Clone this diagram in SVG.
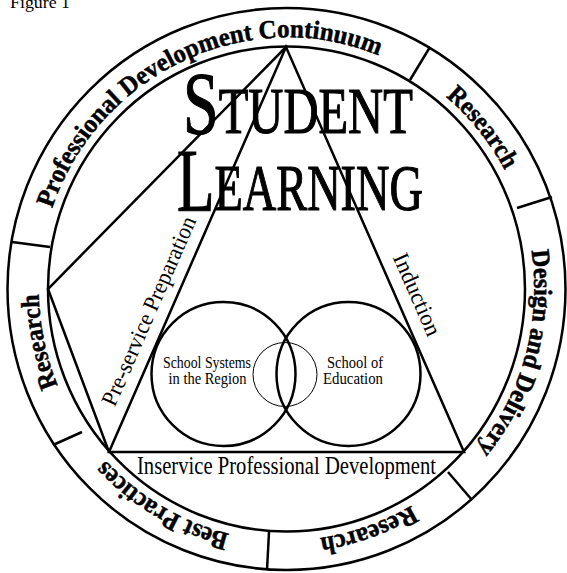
<svg xmlns="http://www.w3.org/2000/svg" width="567" height="573" viewBox="0 0 567 573">
<style>
.ln{fill:none;stroke:#000;stroke-width:2.5}
.thin{fill:none;stroke:#000;stroke-width:1}
.ring{font-family:"Liberation Serif","Times New Roman",serif;font-weight:bold;font-size:26px;fill:#000;stroke:#000;stroke-width:0.5}
.lbl{font-family:"Liberation Serif","Times New Roman",serif;fill:#000}
.big{font-family:"Liberation Serif","Times New Roman",serif;fill:#000;stroke:#000;stroke-width:1.2}
</style>
<defs>
<path id="rp" d="M268.1,540.3 A251,252 0 0 1 304.9,37.7 A251,252 0 0 1 268.1,540.3"/>
</defs>
<rect width="567" height="573" fill="#fff"/>
<text class="lbl" x="10" y="8" font-size="16" textLength="60" lengthAdjust="spacingAndGlyphs">Figure 1</text>

<g id="ring">
<ellipse class="ln" cx="286.5" cy="289" rx="279" ry="281"/>
<ellipse class="ln" cx="286.5" cy="289" rx="238.5" ry="242.5"/>
<line class="ln" x1="430" y1="47" x2="410" y2="80"/>
<line class="ln" x1="552" y1="197" x2="517" y2="208"/>
<line class="ln" x1="472" y1="500" x2="448" y2="472"/>
<line class="ln" x1="267" y1="570" x2="269" y2="532"/>
<line class="ln" x1="53" y1="445" x2="82" y2="432"/>
<line class="ln" x1="12" y1="242" x2="50" y2="247"/>
</g>

<g id="ring-labels">
<text class="ring"><textPath href="#rp" startOffset="41.97%" text-anchor="middle" textLength="404" lengthAdjust="spacingAndGlyphs">Professional Development Continuum</textPath></text>
<text class="ring"><textPath href="#rp" startOffset="62.92%" text-anchor="middle" textLength="95" lengthAdjust="spacingAndGlyphs">Research</textPath></text>
<text class="ring"><textPath href="#rp" startOffset="78.14%" text-anchor="middle" textLength="212" lengthAdjust="spacingAndGlyphs">Design and Delivery</textPath></text>
<text class="ring"><textPath href="#rp" startOffset="93.56%" text-anchor="middle" textLength="98" lengthAdjust="spacingAndGlyphs">Research</textPath></text>
<text class="ring"><textPath href="#rp" startOffset="7.17%" text-anchor="middle" textLength="146" lengthAdjust="spacingAndGlyphs">Best Practices</textPath></text>
<text class="ring"><textPath href="#rp" startOffset="20.5%" text-anchor="middle" textLength="94" lengthAdjust="spacingAndGlyphs">Research</textPath></text>
</g>

<g id="connectors">
<polygon class="ln" points="286,47 109,452 464,452"/>
<polyline class="ln" points="286,47 48,289 109,452"/>
</g>

<g id="title">
<text class="big" transform="translate(183,133) scale(0.73,1)"><tspan font-size="88">S</tspan><tspan font-size="66.5">TUDENT</tspan></text>
<text class="big" transform="translate(177,210) scale(0.697,1)"><tspan font-size="88">L</tspan><tspan font-size="66.5">EARNING</tspan></text>
</g>

<g id="edge-labels">
<text class="lbl" font-size="23" text-anchor="middle" transform="translate(155.7,314) rotate(-66.4)" textLength="204" lengthAdjust="spacingAndGlyphs">Pre-service Preparation</text>
<text class="lbl" font-size="23" text-anchor="middle" transform="translate(410.3,297.5) rotate(66.3)" textLength="88" lengthAdjust="spacingAndGlyphs">Induction</text>
<text class="lbl" font-size="25" x="286.5" y="474" text-anchor="middle" textLength="299" lengthAdjust="spacingAndGlyphs">Inservice Professional Development</text>
</g>

<g id="school-systems">
<circle class="ln" cx="223.5" cy="374" r="72"/>
<text class="lbl" font-size="16" x="207" y="368" text-anchor="middle" textLength="88" lengthAdjust="spacingAndGlyphs">School Systems</text>
<text class="lbl" font-size="16" x="207.5" y="384" text-anchor="middle" textLength="78" lengthAdjust="spacingAndGlyphs">in the Region</text>
</g>
<g id="school-of-education">
<circle class="ln" cx="348.5" cy="374" r="72"/>
<text class="lbl" font-size="16" x="355" y="368" text-anchor="middle" textLength="56" lengthAdjust="spacingAndGlyphs">School of</text>
<text class="lbl" font-size="16" x="353" y="384" text-anchor="middle" textLength="60" lengthAdjust="spacingAndGlyphs">Education</text>
</g>
<g id="overlap">
<circle class="thin" cx="285" cy="374.5" r="32"/>
</g>
</svg>
